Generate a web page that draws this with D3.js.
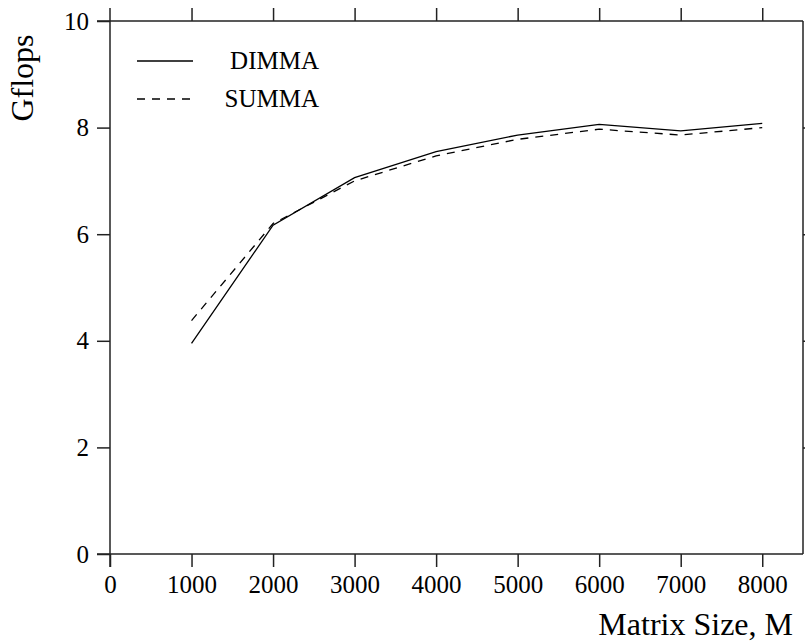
<!DOCTYPE html>
<html>
<head>
<meta charset="utf-8">
<script src="https://cdn.jsdelivr.net/npm/d3@7"></script>
<style>
  body { margin: 0; background: #fff; }
  svg { display: block; }
  text { font-family: "Liberation Serif", "Times New Roman", serif; fill: #000; }
</style>
</head>
<body>
<svg id="chart" width="805" height="642"></svg>
<script>
const matrixSizes = [1000, 2000, 3000, 4000, 5000, 6000, 7000, 8000];
const dimmaValues = [3.95, 6.17, 7.06, 7.55, 7.86, 8.06, 7.94, 8.08];
const summaValues = [4.38, 6.2, 7.0, 7.47, 7.78, 7.97, 7.86, 8.0];
const xTickValues = [0, 1000, 2000, 3000, 4000, 5000, 6000, 7000, 8000];
const yTickValues = [0, 2, 4, 6, 8, 10];
const seriesNames = ["DIMMA", "SUMMA"];

(function () {
const svg = d3.select("#chart");
const pL = 110, pR = 803, pT = 21, pB = 554;
const tickLen = 13;
const axisColor = "#222";

const x = d3.scaleLinear().domain([0, 8500]).range([pL, pR]);
const y = d3.scaleLinear().domain([0, 10]).range([pB, pT]);

// Frame
const frame = svg.append("g").attr("stroke", axisColor).attr("stroke-width", 1.5).attr("fill", "none");
frame.append("line").attr("x1", pL - tickLen).attr("x2", pR).attr("y1", pT).attr("y2", pT);
frame.append("line").attr("x1", pL - tickLen).attr("x2", pR).attr("y1", pB).attr("y2", pB);
frame.append("line").attr("x1", pL).attr("x2", pL).attr("y1", pT - tickLen).attr("y2", pB + tickLen);
frame.append("line").attr("x1", pR).attr("x2", pR).attr("y1", pT).attr("y2", pB);

// Bottom axis
const xAxis = d3.axisBottom(x).tickValues(xTickValues).tickSize(tickLen).tickPadding(8).tickFormat(d3.format("d"));
const gx = svg.append("g").attr("transform", `translate(0,${pB})`).call(xAxis);
gx.select(".domain").remove();
gx.selectAll(".tick line").attr("stroke", axisColor).attr("stroke-width", 1.5);
gx.selectAll(".tick text").attr("font-size", 25).attr("font-family", "Liberation Serif").attr("fill", "#000");

// Top axis ticks
const xAxisTop = d3.axisTop(x).tickValues(xTickValues.slice(1)).tickSize(tickLen).tickFormat("");
const gxt = svg.append("g").attr("transform", `translate(0,${pT})`).call(xAxisTop);
gxt.select(".domain").remove();
gxt.selectAll(".tick line").attr("stroke", axisColor).attr("stroke-width", 1.5);

// Left axis
const yAxis = d3.axisLeft(y).tickValues(yTickValues).tickSize(tickLen).tickPadding(8).tickFormat(d3.format("d"));
const gy = svg.append("g").attr("transform", `translate(${pL},0)`).call(yAxis);
gy.select(".domain").remove();
gy.selectAll(".tick line").attr("stroke", axisColor).attr("stroke-width", 1.5);
gy.selectAll(".tick text").attr("font-size", 25).attr("font-family", "Liberation Serif").attr("fill", "#000");

// Right axis ticks
const yAxisRight = d3.axisRight(y).tickValues(yTickValues.slice(1, -1)).tickSize(tickLen).tickFormat("");
const gyr = svg.append("g").attr("transform", `translate(${pR},0)`).call(yAxisRight);
gyr.select(".domain").remove();
gyr.selectAll(".tick line").attr("stroke", axisColor).attr("stroke-width", 1.5);

// Lines
const line = d3.line().x((d, i) => x(matrixSizes[i])).y(d => y(d));
svg.append("path").datum(dimmaValues).attr("d", line)
  .attr("fill", "none").attr("stroke", "#000").attr("stroke-width", 1.3);
svg.append("path").datum(summaValues).attr("d", line)
  .attr("fill", "none").attr("stroke", "#000").attr("stroke-width", 1.3).attr("stroke-dasharray", "8,7");

// Legend
const legend = svg.append("g");
const legendRows = [{ y: 61, dash: null }, { y: 99, dash: "8,7" }];
seriesNames.forEach((name, i) => {
  const r = legendRows[i];
  legend.append("line").attr("x1", 137).attr("x2", 193).attr("y1", r.y).attr("y2", r.y)
    .attr("stroke", "#000").attr("stroke-width", 1.3).attr("stroke-dasharray", r.dash);
  legend.append("text").attr("x", 319).attr("y", r.y + 8).attr("text-anchor", "end")
    .attr("font-size", 25).text(name);
});

// Axis titles
svg.append("text").attr("x", 793).attr("y", 635).attr("text-anchor", "end")
  .attr("font-size", 32).text("Matrix Size, M");
svg.append("text").attr("transform", "translate(33,78) rotate(-90)").attr("text-anchor", "middle")
  .attr("font-size", 32).text("Gflops");
})();
</script>
</body>
</html>
